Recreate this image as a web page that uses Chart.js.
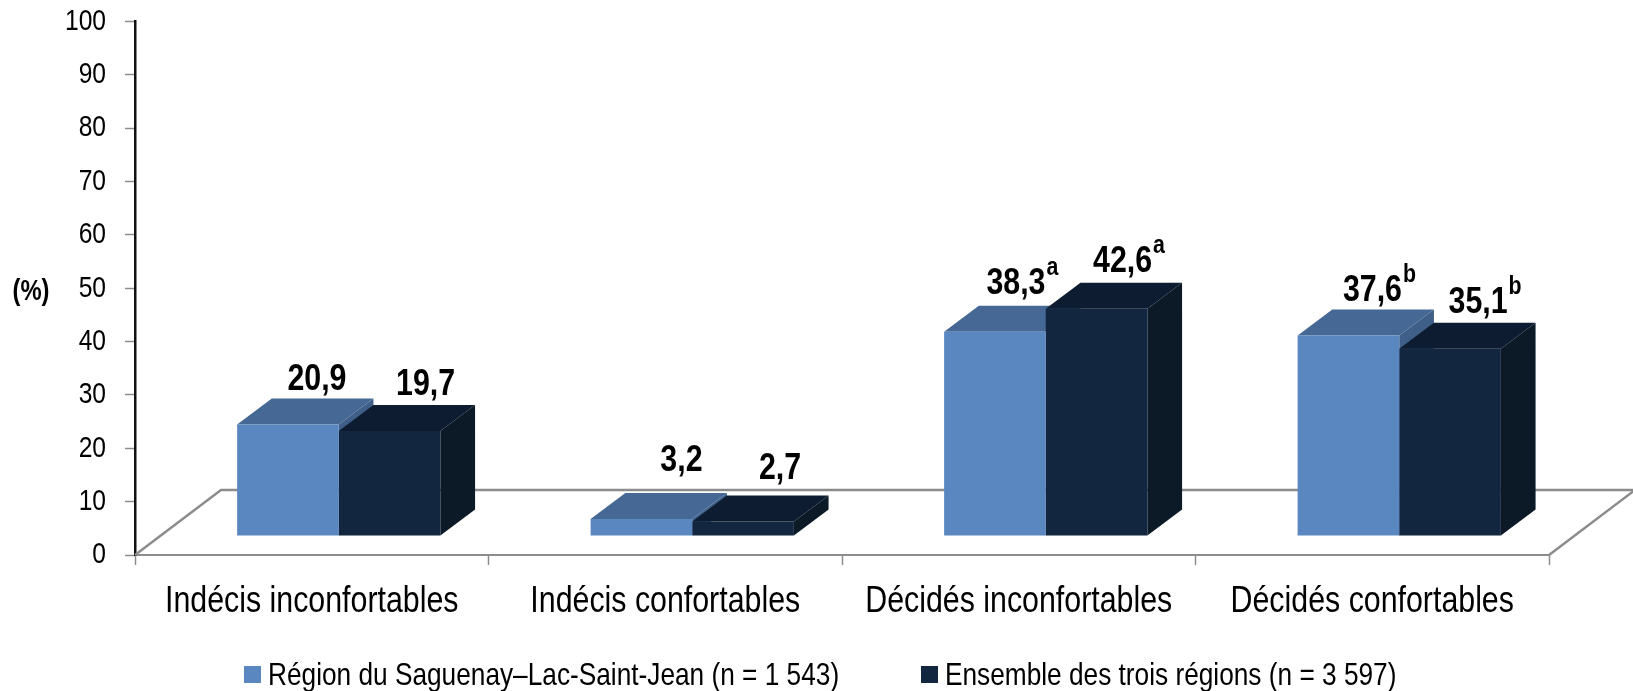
<!DOCTYPE html>
<html lang="fr">
<head>
<meta charset="utf-8">
<title>Graphique</title>
<script src="https://cdn.jsdelivr.net/npm/chart.js@4/dist/chart.umd.js"></script>
<style>html,body{margin:0;padding:0;background:#fff;overflow:hidden}canvas{display:block}</style>
</head>
<body>
<canvas id="c" width="1633" height="691"></canvas>
<script>
const categories = ["Indécis inconfortables", "Indécis confortables", "Décidés inconfortables", "Décidés confortables"];
const regionValues = [20.9, 3.2, 38.3, 37.6];
const ensembleValues = [19.7, 2.7, 42.6, 35.1];
const regionSup = ["", "", "a", "b"];
const ensembleSup = ["", "", "a", "b"];
const regionLabel = "Région du Saguenay–Lac-Saint-Jean (n = 1 543)";
const ensembleLabel = "Ensemble des trois régions (n = 3 597)";
const yTicks = [0, 10, 20, 30, 40, 50, 60, 70, 80, 90, 100];

const FONT = '"Liberation Sans", Arial, sans-serif';
const NARROW_K = 0.82;
const BAR = {dx: 27, dy: -19, sx: 34.7, sy: 26};
const FLOOR = {sx: 86, sy: 65};
const faces = [
  {front: "#5b87c0", top: "#466894", side: "#3f5f88"},
  {front: "#12263f", top: "#0d1c30", side: "#0c1927"}
];
const labelNudge = [
  [[29, -45], [40, -58], [21, -48], [24, -45]],
  [[36, -46], [37, -53], [26, -47], [28, -46]]
];
const supSets = [regionSup, ensembleSup];

const canvas = document.getElementById("c");
const ctx0 = canvas.getContext("2d");
// Arial Narrow look: every text on this canvas is squeezed horizontally around its anchor
ctx0.fillText = function (t, x, y) {
  this.save();
  this.translate(x, y);
  this.scale(NARROW_K, 1);
  CanvasRenderingContext2D.prototype.fillText.call(this, t, 0, 0);
  this.restore();
};

function poly(ctx, pts, fill) {
  ctx.beginPath();
  pts.forEach((p, i) => i ? ctx.lineTo(p[0], p[1]) : ctx.moveTo(p[0], p[1]));
  ctx.closePath();
  ctx.fillStyle = fill;
  ctx.fill();
}

const scene3d = {
  id: "scene3d",
  beforeDatasetsDraw(chart) {
    const ctx = chart.ctx, {x, y} = chart.scales;
    ctx.save();
    ctx.strokeStyle = "#8c8c8c";
    ctx.lineWidth = 2.5;
    ctx.beginPath();
    ctx.moveTo(x.left, y.bottom);
    ctx.lineTo(x.left + FLOOR.sx, y.bottom - FLOOR.sy);
    ctx.lineTo(x.right + FLOOR.sx, y.bottom - FLOOR.sy);
    ctx.lineTo(x.right, y.bottom);
    ctx.stroke();
    ctx.restore();
    ctx.save();
    ctx.translate(BAR.dx, BAR.dy);
    categories.forEach((_, i) => {
      [0, 1].forEach(d => {
        const b = chart.getDatasetMeta(d).data[i];
        const l = b.x - b.width / 2, r = b.x + b.width / 2;
        const c = faces[d];
        poly(ctx, [[r, b.y], [r + BAR.sx, b.y - BAR.sy], [r + BAR.sx, b.base - BAR.sy], [r, b.base]], c.side);
        poly(ctx, [[l, b.y], [l + BAR.sx, b.y - BAR.sy], [r + BAR.sx, b.y - BAR.sy], [r, b.y]], c.top);
      });
    });
  },
  afterDatasetsDraw(chart) {
    chart.ctx.restore();
  },
  afterDraw(chart) {
    const ctx = chart.ctx;
    ctx.save();
    ctx.fillStyle = "#000";
    [0, 1].forEach(d => {
      chart.getDatasetMeta(d).data.forEach((b, i) => {
        const val = chart.data.datasets[d].data[i];
        const txt = val.toFixed(1).replace(".", ",");
        const sup = supSets[d][i];
        const [nx, ny] = labelNudge[d][i];
        const cx = b.x + BAR.dx + nx, cy = b.y + BAR.dy + ny;
        ctx.font = 'bold 37px ' + FONT;
        ctx.textAlign = "center";
        ctx.textBaseline = "middle";
        ctx.fillText(txt, cx, cy);
        if (sup) {
          const w = ctx.measureText(txt).width * NARROW_K;
          ctx.font = 'bold 26px ' + FONT;
          ctx.textAlign = "left";
          ctx.fillText(sup, cx + w / 2 + 1, cy - 16);
        }
      });
    });
    ctx.font = 'bold 29px ' + FONT;
    ctx.textAlign = "center";
    ctx.textBaseline = "middle";
    ctx.fillText("(%)", 31, 292);
    const items = chart.data.datasets.map((ds, i) => ({label: ds.label, color: ds.backgroundColor, x: i ? 921 : 244}));
    ctx.textAlign = "left";
    ctx.font = '32px ' + FONT;
    items.forEach(it => {
      ctx.fillStyle = it.color;
      ctx.fillRect(it.x, 666, 17, 17);
      ctx.fillStyle = "#000";
      ctx.fillText(it.label, it.x + 24, 676);
    });
    ctx.restore();
  }
};

new Chart(canvas, {
  type: "bar",
  data: {
    labels: categories,
    datasets: [
      {label: regionLabel, data: regionValues, backgroundColor: faces[0].front, clip: false},
      {label: ensembleLabel, data: ensembleValues, backgroundColor: faces[1].front, clip: false}
    ]
  },
  options: {
    responsive: false,
    animation: false,
    layout: {padding: {top: 21.5, right: 84, left: 0, bottom: 0}},
    datasets: {bar: {barPercentage: 1, categoryPercentage: 0.575}},
    plugins: {legend: {display: false}, tooltip: {enabled: false}, title: {display: false}},
    scales: {
      x: {
        afterFit(s) { s.height = 136; },
        border: {display: true, color: "#8c8c8c", width: 2},
        grid: {display: true, drawOnChartArea: false, drawTicks: true, tickLength: 10, color: "#8c8c8c", tickWidth: 1.5, offset: true},
        ticks: {color: "#000", font: {family: FONT, size: 37}, padding: 15, maxRotation: 0, autoSkip: false}
      },
      y: {
        min: 0, max: 100,
        afterFit(s) { s.width = 135; s.paddingTop = 0; s.paddingBottom = 0; },
        afterBuildTicks(s) { s.ticks = yTicks.map(v => ({value: v})); },
        border: {display: true, color: "#111", width: 2.5},
        grid: {display: true, drawOnChartArea: false, drawTicks: true, tickLength: 10, color: "#8c8c8c", tickWidth: 1.5},
        ticks: {color: "#000", font: {family: FONT, size: 30}, padding: 19}
      }
    }
  },
  plugins: [scene3d]
});
</script>
</body>
</html>
